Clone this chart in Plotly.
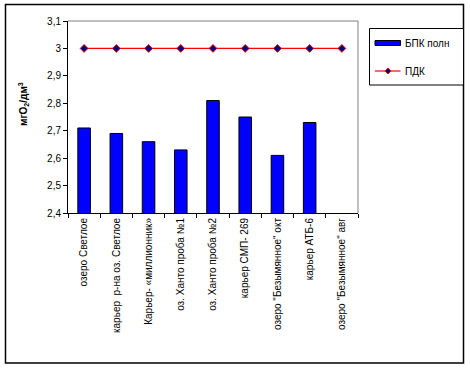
import plotly.graph_objects as go

categories = [
    "озеро Светлое",
    "карьер  р-на оз. Светлое",
    "Карьер- «миллионник»",
    "оз. Ханто проба №1",
    "оз. Ханто проба №2",
    "карьер СМП- 269",
    "озеро \"Безымянное\" окт",
    "карьер АТБ-6",
    "озеро \"Безымянное\" авг",
]
bpk_values = [2.71, 2.69, 2.66, 2.63, 2.81, 2.75, 2.61, 2.73, None]
pdk_values = [3, 3, 3, 3, 3, 3, 3, 3, 3]
series_names = ["БПК полн", "ПДК"]

W, H = 470, 368
L, R, T, B = 68, 358, 21, 213  # plot area in pixels


def px(xp):
    return (xp - L) / (R - L)


def py(yp):
    return (B - yp) / (B - T)


FONT = "Liberation Sans, Arial, sans-serif"

fig = go.Figure()
fig.add_trace(go.Bar(
    x=categories, y=bpk_values, name=series_names[0],
    marker=dict(color="#0000FF", line=dict(color="black", width=1)),
    showlegend=False,
))
fig.add_trace(go.Scatter(
    x=categories, y=pdk_values, name=series_names[1], mode="lines+markers",
    line=dict(color="#FF0000", width=1.2),
    marker=dict(symbol="diamond", size=6, color="#000080",
                line=dict(color="#FF0000", width=1)),
    showlegend=False,
))

shapes = []
# outer frame
shapes.append(dict(type="rect", xref="paper", yref="paper",
                   x0=px(5.5), x1=px(463.5), y0=py(363), y1=py(4.5),
                   line=dict(color="black", width=1.5), layer="below"))
# plot area gray top/right border
shapes.append(dict(type="line", xref="paper", yref="paper",
                   x0=0, x1=1, y0=1, y1=1, line=dict(color="#808080", width=1)))
shapes.append(dict(type="line", xref="paper", yref="paper",
                   x0=1, x1=1, y0=0, y1=1, line=dict(color="#808080", width=1)))
# legend box
shapes.append(dict(type="rect", xref="paper", yref="paper",
                   x0=px(369.5), x1=px(463.5), y0=py(85), y1=py(28.5),
                   line=dict(color="black", width=1), fillcolor="white"))
# legend bar symbol
shapes.append(dict(type="rect", xref="paper", yref="paper",
                   x0=px(375), x1=px(400.5), y0=py(45.5), y1=py(40.5),
                   line=dict(color="black", width=1), fillcolor="#0000FF"))
# legend line symbol
shapes.append(dict(type="line", xref="paper", yref="paper",
                   x0=px(375), x1=px(400.5), y0=py(71), y1=py(71),
                   line=dict(color="#FF0000", width=1.2)))
# legend marker (diamond)
cx, cy, r = 388, 71, 3
shapes.append(dict(type="path", xref="paper", yref="paper",
                   path=(f"M {px(cx - r)} {py(cy)} L {px(cx)} {py(cy - r)} "
                         f"L {px(cx + r)} {py(cy)} L {px(cx)} {py(cy + r)} Z"),
                   line=dict(color="#FF0000", width=1), fillcolor="#000080"))

annotations = [
    dict(text=series_names[0], xref="paper", yref="paper", x=px(403), y=py(43),
         xanchor="left", yanchor="middle", showarrow=False,
         font=dict(family=FONT, size=10, color="black")),
    dict(text=series_names[1], xref="paper", yref="paper", x=px(403), y=py(71),
         xanchor="left", yanchor="middle", showarrow=False,
         font=dict(family=FONT, size=10, color="black")),
    dict(text="<b>мгО<sub>2</sub>/дм<sup>3</sup></b>", xref="paper", yref="paper",
         x=px(23), y=py(104), textangle=-90, xanchor="center", yanchor="middle",
         showarrow=False, font=dict(family=FONT, size=10, color="black")),
]

fig.update_layout(
    width=W, height=H,
    margin=dict(l=L, r=W - R, t=T, b=H - B, pad=0, autoexpand=False),
    paper_bgcolor="white", plot_bgcolor="white",
    separators=", ",
    bargap=0.61,
    font=dict(family=FONT, size=10, color="black"),
    xaxis=dict(
        type="category", tickangle=-90, tickson="boundaries",
        ticks="outside", ticklen=4, tickcolor="black", tickwidth=1,
        showline=True, linecolor="black", linewidth=1,
        showgrid=False, zeroline=False,
        tickfont=dict(family=FONT, size=10),
        range=[-0.5, 8.5],
    ),
    yaxis=dict(
        range=[2.4, 3.1], dtick=0.1, tick0=2.4,
        ticks="outside", ticklen=4, tickcolor="black", tickwidth=1,
        showline=True, linecolor="black", linewidth=1,
        showgrid=False, zeroline=False,
        tickfont=dict(family=FONT, size=10),
    ),
    shapes=shapes,
    annotations=annotations,
)

fig.write_html("out.html", config={"displayModeBar": False},
               post_script="document.body.style.margin='0';")
